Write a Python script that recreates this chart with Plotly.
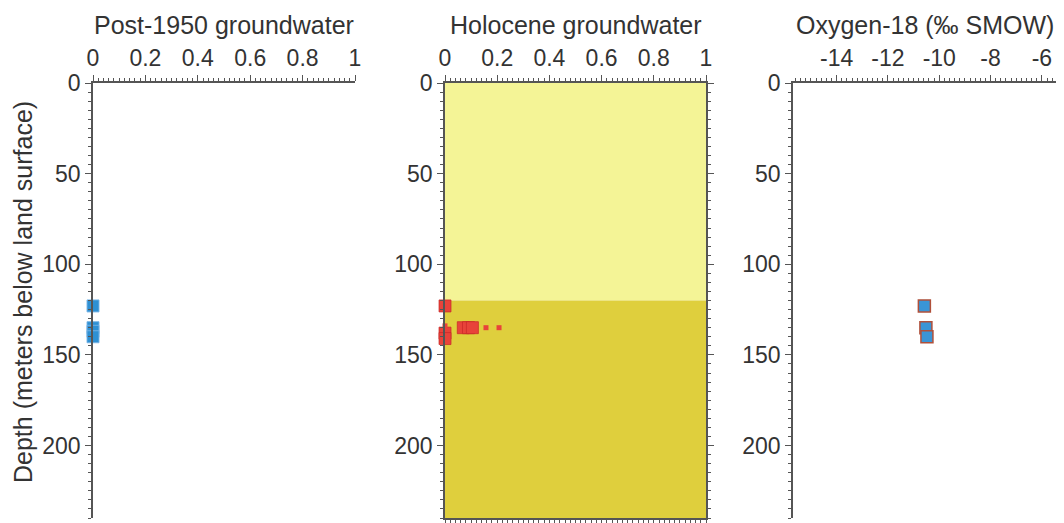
import plotly.graph_objects as go

# ---------------- data ----------------
depth_range = [240, 0]

# Panel 1: fraction of post-1950 groundwater
post1950_frac = [0, 0, 0, 0]
post1950_depth = [123, 135, 137, 140]

# Panel 2: fraction of Holocene groundwater
holocene_frac = [0, 0, 0, 0.07, 0.09, 0.105]
holocene_depth = [123, 138, 141, 135, 135, 135]
holocene_small_frac = [0, 0.157, 0.207]
holocene_small_depth = [134, 135, 135]

# Background depth bands in the Holocene panel
band_top = [0, 120]
band_bottom = [120, 240]
band_colors = ["#f4f496", "#dfcf3d"]

# Panel 3: oxygen-18
o18_value = [-10.58, -10.52, -10.48]
o18_depth = [123, 135, 140]

panel_titles = ["Post-1950 groundwater", "Holocene groundwater", "Oxygen-18 (‰ SMOW)"]
depth_ticks = [0, 50, 100, 150, 200]
frac_ticks = [0, 0.2, 0.4, 0.6, 0.8, 1]
frac_ticklabels = ["0", "0.2", "0.4", "0.6", "0.8", "1"]
o18_ticks = [-14, -12, -10, -8, -6]

# ---------------- figure ----------------
OFF = 8  # page body margin
W, H = 1056, 515
top_px, bot_px = 83 - OFF, 518 - OFF
FONT = "Liberation Sans, Arial, sans-serif"
TXT = "#333333"
LINE = "#555555"

def px_x(p):
    return (p - OFF) / W

domains = [(px_x(93), px_x(355)), (px_x(445), px_x(706)), (px_x(793), px_x(1056))]
ph = bot_px - top_px

def px_y(p):
    return 1 + (top_px - (p - OFF)) / ph

fig = go.Figure()

blue = "#2e90d3"
red = "#e8433a"

fig.add_trace(go.Scatter(
    x=post1950_frac, y=post1950_depth, mode="markers", xaxis="x", yaxis="y",
    marker=dict(symbol="square", size=12, color=blue,
                line=dict(color="rgba(120,180,230,0.9)", width=1)),
    cliponaxis=False, showlegend=False))

fig.add_trace(go.Scatter(
    x=holocene_frac, y=holocene_depth, mode="markers", xaxis="x2", yaxis="y2",
    marker=dict(symbol="square", size=12, color=red,
                line=dict(color="rgba(200,40,40,0.7)", width=1)),
    cliponaxis=False, showlegend=False))
fig.add_trace(go.Scatter(
    x=holocene_small_frac, y=holocene_small_depth, mode="markers", xaxis="x2", yaxis="y2",
    marker=dict(symbol="square", size=5, color=red, line=dict(width=0)),
    cliponaxis=False, showlegend=False))

fig.add_trace(go.Scatter(
    x=o18_value, y=o18_depth, mode="markers", xaxis="x3", yaxis="y3",
    marker=dict(symbol="square", size=12, color="#3a95d6",
                line=dict(color="#b0503a", width=1.5)),
    cliponaxis=False, showlegend=False))

for t, b, c in zip(band_top, band_bottom, band_colors):
    fig.add_shape(type="rect", xref="x2 domain", yref="y2", x0=0, x1=1, y0=t, y1=b,
                  fillcolor=c, line=dict(width=0), layer="below")

def xax(dom, rng, ticks, labels, minor, mirror):
    return dict(domain=list(dom), range=rng, side="top", tickvals=ticks, ticktext=labels,
                showline=True, linecolor=LINE, linewidth=1.5, mirror=mirror,
                ticks="outside", ticklen=6, tickwidth=1.2, tickcolor=LINE,
                minor=dict(dtick=minor, tick0=0, ticklen=3, tickwidth=1, tickcolor=LINE, ticks="outside"),
                showgrid=False, zeroline=False, ticklabelstandoff=0,
                tickfont=dict(family=FONT, size=23, color=TXT), automargin=False)

def yax(anchor, mirror):
    return dict(domain=[0, 1], range=depth_range, anchor=anchor, tickvals=depth_ticks,
                showline=True, linecolor=LINE, linewidth=1.5, mirror=mirror,
                ticks="outside", ticklen=6, tickwidth=1.2, tickcolor=LINE,
                minor=dict(dtick=5, tick0=0, ticklen=3, tickwidth=1, tickcolor=LINE, ticks="outside"),
                showgrid=False, zeroline=False,
                tickfont=dict(family=FONT, size=23, color=TXT), automargin=False)

fig.update_layout(
    width=W, height=H,
    margin=dict(l=0, r=0, t=top_px, b=H - bot_px),
    paper_bgcolor="white", plot_bgcolor="rgba(0,0,0,0)",
    font=dict(family=FONT, color=TXT),
    xaxis=dict(**xax(domains[0], [0, 1], frac_ticks, frac_ticklabels, 0.02, False), anchor="y"),
    xaxis2=dict(**xax(domains[1], [0, 1], frac_ticks, frac_ticklabels, 0.02, "ticks"), anchor="y2"),
    xaxis3=dict(**xax(domains[2], [-15.7, -5.45], o18_ticks, [str(v) for v in o18_ticks], 0.2, False), anchor="y3"),
    yaxis=yax("x", False),
    yaxis2=yax("x2", "ticks"),
    yaxis3=yax("x3", False),
)

for (d0, d1), title in zip(domains, panel_titles):
    fig.add_annotation(text=title, x=(d0 + d1) / 2, xref="paper", y=px_y(25),
                       yref="paper", xanchor="center", yanchor="middle", showarrow=False,
                       font=dict(family=FONT, size=25, color=TXT))

fig.add_annotation(text="Depth (meters below land surface)", textangle=-90,
                   x=px_x(23), xref="paper", y=px_y(292), yref="paper",
                   xanchor="center", yanchor="middle", showarrow=False,
                   font=dict(family=FONT, size=25, color=TXT))

fig.write_html("out.html")
